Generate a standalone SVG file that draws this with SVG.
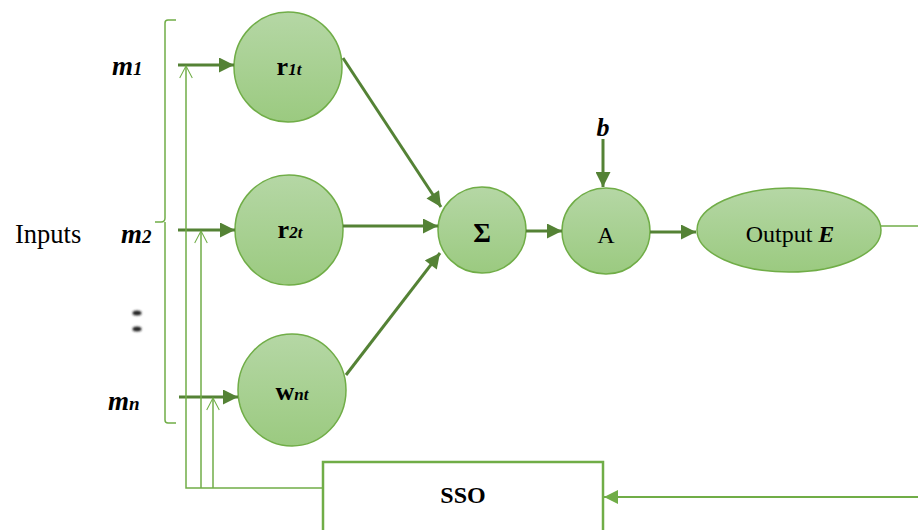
<svg xmlns="http://www.w3.org/2000/svg" width="918" height="530" viewBox="0 0 918 530">
  <defs>
    <linearGradient id="nodeFill" x1="0" y1="0" x2="0" y2="1">
      <stop offset="0" stop-color="#B5D7A5"/>
      <stop offset="1" stop-color="#9BCA80"/>
    </linearGradient>
    <marker id="arrowDark" viewBox="0 0 10 10" refX="10" refY="5" markerWidth="5.5" markerHeight="5" markerUnits="strokeWidth" orient="auto">
      <path d="M0,0 L10,5 L0,10 Z" fill="#548235"/>
    </marker>
    <marker id="arrowLight" viewBox="0 0 10 10" refX="10" refY="5" markerWidth="8" markerHeight="7" markerUnits="strokeWidth" orient="auto">
      <path d="M0,0 L10,5 L0,10 Z" fill="#70AD47"/>
    </marker>
    <marker id="arrowOpen" viewBox="0 0 20 20" refX="19" refY="10" markerWidth="14" markerHeight="14" markerUnits="userSpaceOnUse" orient="auto">
      <path d="M2,1 L19,10 L2,19" fill="none" stroke="#70AD47" stroke-width="1.5"/>
    </marker>
    <filter id="soft" x="-1" y="-1" width="3" height="3">
      <feGaussianBlur stdDeviation="1.2"/>
    </filter>
    <style>
      .node { fill: url(#nodeFill); stroke: #70AD47; stroke-width: 1.5; }
      .dark { stroke: #548235; stroke-width: 3; fill: none; }
      .thin { stroke: #70AD47; stroke-width: 1.5; fill: none; }
      .serif { font-family: "Liberation Serif", "Times New Roman", serif; fill: #000; }
      .bi { font-weight: bold; font-style: italic; }
      .b { font-weight: bold; }
    </style>
  </defs>

  <!-- input labels and brace -->
  <g id="inputs">
    <text class="serif" x="15" y="243" font-size="26.5">Inputs</text>
    <text class="serif bi" x="112" y="75" font-size="27">m<tspan font-size="19">1</tspan></text>
    <text class="serif bi" x="121" y="243" font-size="27">m<tspan font-size="19">2</tspan></text>
    <text class="serif bi" x="108" y="410" font-size="27">m<tspan font-size="19">n</tspan></text>
    <ellipse cx="137" cy="313" rx="4.5" ry="2.5" fill="#222" filter="url(#soft)"/>
    <ellipse cx="137" cy="329" rx="4.5" ry="2.5" fill="#222" filter="url(#soft)"/>
    <path class="thin" d="M176,20 L168,20 Q165,20 165,23 L165,218 Q165,222 161,222 L155,222 M165,222 L165,420 Q165,423 168,423 L176,423"/>
  </g>

  <!-- neurons -->
  <g id="r1t">
    <ellipse class="node" cx="288" cy="67" rx="54" ry="55"/>
    <text class="serif" x="289" y="75" font-size="26" text-anchor="middle"><tspan class="b">r</tspan><tspan class="bi" font-size="17">1t</tspan></text>
  </g>
  <g id="r2t">
    <ellipse class="node" cx="289" cy="230" rx="54" ry="55"/>
    <text class="serif" x="290" y="238" font-size="26" text-anchor="middle"><tspan class="b">r</tspan><tspan class="bi" font-size="17">2t</tspan></text>
  </g>
  <g id="wnt">
    <ellipse class="node" cx="292" cy="390" rx="54" ry="56"/>
    <text class="serif" x="292" y="400" font-size="26" text-anchor="middle"><tspan class="b">w</tspan><tspan class="bi" font-size="17">nt</tspan></text>
  </g>
  <g id="sum">
    <ellipse class="node" cx="482" cy="230" rx="44" ry="43"/>
    <text class="serif b" x="482" y="242" font-size="27" text-anchor="middle">Σ</text>
  </g>
  <g id="activation">
    <ellipse class="node" cx="606" cy="231" rx="44" ry="43"/>
    <text class="serif" x="606" y="243" font-size="24" text-anchor="middle">A</text>
  </g>
  <g id="bias">
    <text class="serif bi" x="603" y="136" font-size="26" text-anchor="middle">b</text>
  </g>
  <g id="output">
    <ellipse class="node" cx="789" cy="230" rx="92" ry="42"/>
    <text class="serif" x="790" y="242" font-size="24" text-anchor="middle">Output <tspan class="bi">E</tspan></text>
  </g>
  <g id="sso">
    <rect x="323" y="462" width="280" height="80" fill="#fff" stroke="#70AD47" stroke-width="2.5"/>
    <text class="serif b" x="463" y="503" font-size="24" text-anchor="middle">SSO</text>
  </g>

  <!-- connectors -->
  <g id="connectors">
    <line class="dark" x1="178" y1="65" x2="234" y2="65" marker-end="url(#arrowDark)"/>
    <line class="dark" x1="178" y1="230" x2="235" y2="230" marker-end="url(#arrowDark)"/>
    <line class="dark" x1="179" y1="397" x2="238" y2="397" marker-end="url(#arrowDark)"/>

    <line class="dark" x1="343" y1="58" x2="441" y2="207" marker-end="url(#arrowDark)"/>
    <line class="dark" x1="343" y1="226" x2="438" y2="226" marker-end="url(#arrowDark)"/>
    <line class="dark" x1="346" y1="375" x2="440" y2="253" marker-end="url(#arrowDark)"/>

    <line class="dark" x1="526" y1="231" x2="562" y2="231" marker-end="url(#arrowDark)"/>
    <line class="dark" x1="603" y1="139" x2="603" y2="187" marker-end="url(#arrowDark)"/>
    <line class="dark" x1="650" y1="232" x2="696" y2="232" marker-end="url(#arrowDark)"/>

    <line class="thin" x1="881" y1="226" x2="918" y2="226"/>

    <!-- feedback from SSO to the inputs -->
    <path class="thin" d="M323,488 L186,488 L186,66" marker-end="url(#arrowOpen)"/>
    <path class="thin" d="M201,488 L201,231" marker-end="url(#arrowOpen)"/>
    <path class="thin" d="M213,488 L213,398" marker-end="url(#arrowOpen)"/>

    <line stroke="#70AD47" stroke-width="2" x1="918" y1="497" x2="604" y2="497" marker-end="url(#arrowLight)"/>
  </g>
</svg>
